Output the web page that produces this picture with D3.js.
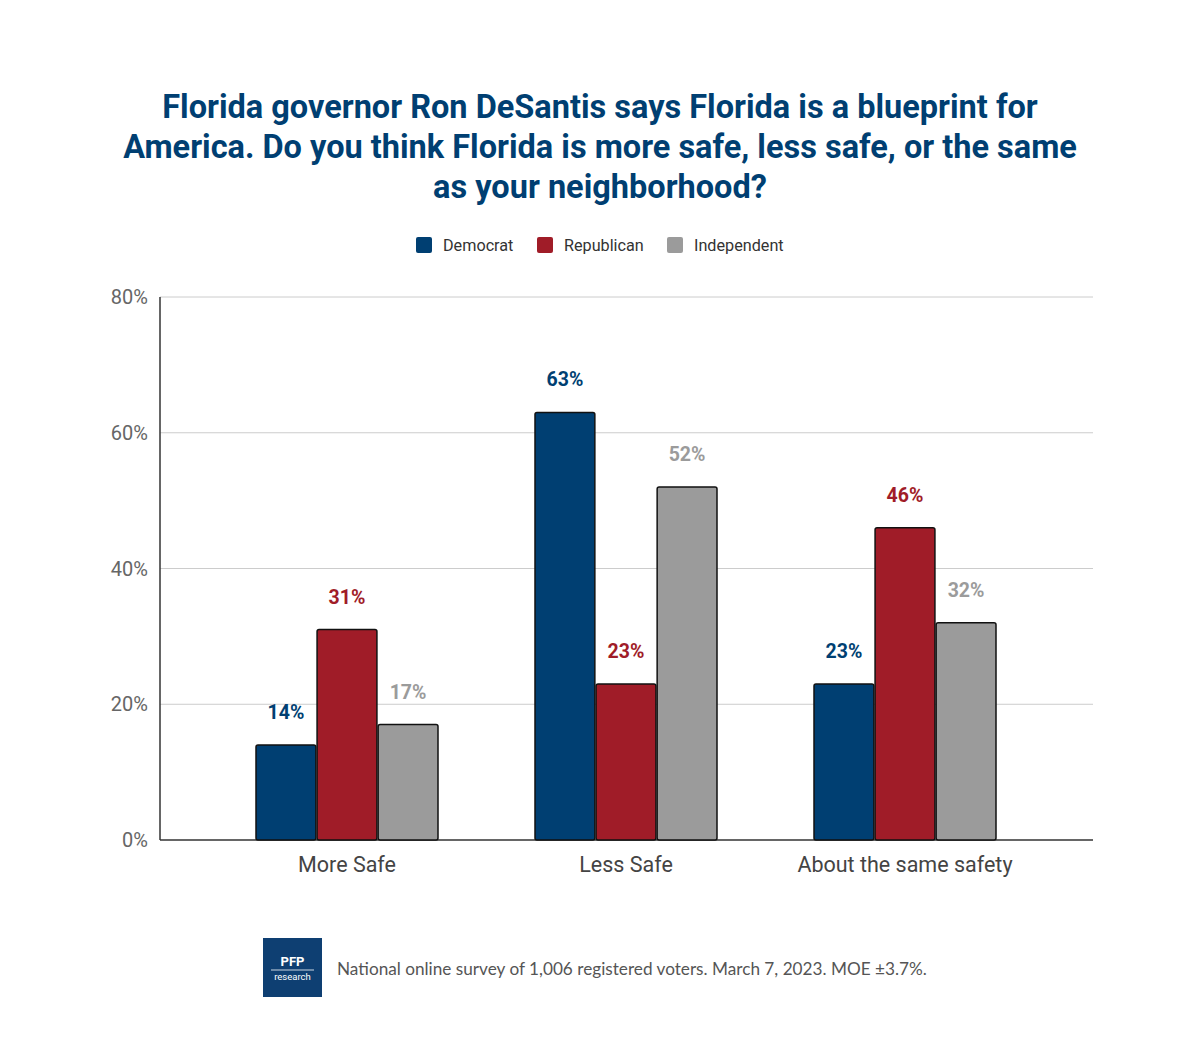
<!DOCTYPE html>
<html><head><meta charset="utf-8">
<script src="https://cdn.jsdelivr.net/npm/d3@7"></script>
<style>body{margin:0;background:#fff}</style>
</head><body>
<svg id="c" width="1200" height="1040"></svg>
<script>
const categories = ["More Safe","Less Safe","About the same safety"];
const seriesNames = ["Democrat","Republican","Independent"];
const democrat = [14,63,23];
const republican = [31,23,46];
const independent = [17,52,32];
const yTicks = [0,20,40,60,80];
const colors = ["#003f72","#a01c28","#9b9b9b"];
const labelColors = ["#003f72","#a01c28","#9b9b9b"];
const values = [democrat, republican, independent];

const svg = d3.select("#c");
svg.append("rect").attr("width",1200).attr("height",1040).attr("fill","#fff");
const F = "Roboto, sans-serif";
const title = ["Florida governor Ron DeSantis says Florida is a blueprint for","America. Do you think Florida is more safe, less safe, or the same","as your neighborhood?"];
svg.append("text").attr("text-anchor","middle").attr("font-family",F).attr("font-weight",700)
 .attr("font-size",32.5).attr("fill","#003f72")
 .selectAll("tspan").data(title).join("tspan").attr("x",600).attr("y",(d,i)=>118+i*40).text(d=>d);

const leg = [{x:416},{x:537},{x:667}];
seriesNames.forEach((s,i)=>{
  svg.append("rect").attr("x",leg[i].x).attr("y",237).attr("width",16).attr("height",16).attr("rx",2).attr("fill",colors[i]);
  svg.append("text").attr("x",leg[i].x+27).attr("y",251).attr("font-family",F).attr("font-size",16.2).attr("fill","#333").text(s);
});

const y = d3.scaleLinear().domain([0,80]).range([840,297]);
const x0 = d3.scalePoint().domain(categories).range([347,905]);
const x1 = d3.scaleBand().domain(seriesNames).range([-91,91]).paddingInner(0.02);

yTicks.forEach(t=>{
  svg.append("line").attr("x1",160).attr("x2",1093).attr("y1",y(t)).attr("y2",y(t))
    .attr("stroke",t===0?"#333":"#cccccc").attr("stroke-width",t===0?1.5:1);
  svg.append("text").attr("x",148).attr("y",y(t)+7).attr("text-anchor","end").attr("font-family",F)
    .attr("font-size",20).attr("fill","#666").text(t+"%");
});
svg.append("line").attr("x1",160).attr("x2",160).attr("y1",297).attr("y2",840).attr("stroke","#333").attr("stroke-width",1.5);

categories.forEach((c,ci)=>{
  seriesNames.forEach((s,si)=>{
    const v = values[si][ci];
    const bx = x0(c)+x1(s);
    svg.append("rect").attr("x",bx).attr("y",y(v)).attr("width",x1.bandwidth()).attr("height",840-y(v))
      .attr("fill",colors[si]).attr("stroke","#111").attr("stroke-width",1.5).attr("rx",2);
    svg.append("text").attr("x",bx+x1.bandwidth()/2).attr("y",y(v)-26).attr("text-anchor","middle")
      .attr("font-family",F).attr("font-weight",700).attr("font-size",19.5).attr("fill",labelColors[si]).text(v+"%");
  });
  svg.append("text").attr("x",x0(c)).attr("y",872).attr("text-anchor","middle").attr("font-family",F)
    .attr("font-size",21.5).attr("fill","#444").text(c);
});

svg.append("rect").attr("x",263).attr("y",938).attr("width",59).attr("height",59).attr("fill","#0e3f72");
svg.append("text").attr("x",292.5).attr("y",966).attr("text-anchor","middle").attr("font-family",F).attr("font-weight",700).attr("font-size",13).attr("fill","#fff").text("PFP");
svg.append("line").attr("x1",271).attr("x2",314).attr("y1",970).attr("y2",970).attr("stroke","#fff").attr("stroke-width",0.8);
svg.append("text").attr("x",292.5).attr("y",980).attr("text-anchor","middle").attr("font-family",F).attr("font-size",9.5).attr("fill","#fff").text("research");
svg.append("text").attr("x",337).attr("y",975).attr("font-family","Lato, sans-serif").attr("font-size",17.2).attr("fill","#555")
  .text("National online survey of 1,006 registered voters. March 7, 2023. MOE ±3.7%.");
</script>
</body></html>
